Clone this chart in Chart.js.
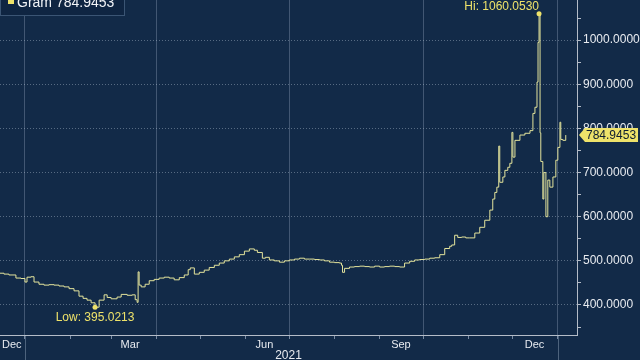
<!DOCTYPE html>
<html>
<head>
<meta charset="utf-8">
<script src="https://cdn.jsdelivr.net/npm/chart.js@4/dist/chart.umd.min.js"></script>
<style>
   html, body { margin: 0; padding: 0; background: #122a48; }
   #frame { position: relative; width: 640px; height: 360px; overflow: hidden; background: #122a48; }
   #holder { position: absolute; left: 0; top: -20px; width: 640px; height: 380px; }
</style>
</head>
<body>
<div id="frame"><div id="holder"><canvas id="graphique"></canvas></div></div>
<script>
const seriesName = 'Gram';

// jours depuis le 1er janvier 2021
const days = [
   -17.8, -14.4, -11.0, -6.2, -2.7, 0, 1.4, 4.1, 6.2, 9.6,
   13.0, 16.5, 19.9, 23.3, 26.8, 30.2, 33.6, 37.0, 39.8, 42.5,
   45.3, 48.0, 50.8, 54.2, 56.3, 59.0, 63.1, 65.9, 70.0, 73.4,
   75.5, 76.8, 77.5, 78.2, 79.6, 82.3, 85.1, 88.5, 91.9, 95.4,
   98.8, 102.2, 105.7, 109.1, 111.8, 113.2, 116.0, 119.4, 122.8, 126.2,
   129.7, 133.1, 136.5, 140.0, 143.4, 146.8, 150.3, 153.7, 157.1, 159.2,
   162.6, 164.7, 167.4, 170.8, 174.3, 177.7, 181.1, 184.6, 188.0, 191.4,
   194.9, 198.3, 201.7, 205.1, 208.6, 212.0, 215.4, 216.8, 217.5, 218.9,
   222.3, 225.7, 229.2, 232.6, 236.0, 239.5, 242.9, 246.3, 249.7, 253.2,
   256.6, 260.0, 263.5, 266.9, 270.3, 273.8, 277.2, 280.6, 284.1, 287.5,
   290.9, 292.3, 294.3, 296.4, 299.1, 301.9, 304.6, 308.1, 311.5, 314.9,
   318.4, 320.4, 321.8, 323.2, 324.5, 325.2, 327.3, 328.7, 330.7, 332.1,
   333.5, 334.2, 335.6, 339.0, 342.4, 345.9, 347.9, 349.3, 350.7, 351.4,
   352.1, 352.8, 353.3, 354.7, 355.4, 356.8, 358.1, 359.5, 361.6, 363.6,
   365.0, 366.4, 367.0, 368.4, 370.4
];

const prices = [
   472, 470, 468, 461, 460, 452, 463, 464, 452, 447,
   445, 446, 445, 443, 441, 437, 432, 420, 415, 411,
   405, 395.0213, 411, 423, 417, 414, 418, 424, 422, 423,
   412, 406, 475, 445, 441, 447, 455, 458, 461, 463,
   461, 457, 462, 468, 480, 484, 470, 474, 479, 485,
   490, 495, 500, 504, 509, 514, 522, 527, 524, 519,
   506, 508, 502, 500, 497, 500, 502, 504, 506, 504,
   504, 503, 502, 500, 497, 496, 495, 490, 474, 483,
   486, 487, 488, 487, 486, 488, 486, 487, 488, 487,
   486, 495, 499, 502, 503, 504, 506, 507, 514, 528,
   533, 536, 558, 553, 554, 552, 552, 563, 576, 592,
   615, 640, 655, 667, 760, 678, 690, 705, 712, 721,
   791, 735, 773, 785, 789, 795, 834, 848, 905, 995,
   1060.053, 790, 725, 640, 700, 600, 683, 667, 690, 728,
   757, 814, 775, 773, 784.9453
];

const monthStartDays = [0, 31, 59, 90, 120, 151, 181, 212, 243, 273, 304, 334, 365];
const quarterStartDays = [0, 90, 181, 273, 365];
const yearStartDays = [0, 365];
const monthLabels = ['Dec', 'Mar', 'Jun', 'Sep', 'Dec'];
const monthLabelDays = [-9, 72, 164, 257.5, 349];
const yearLabel = '2021';
const yTickValues = [350, 400, 450, 500, 550, 600, 650, 700, 750, 800, 850, 900, 950, 1000, 1050, 1100];

const xMin = -17.1;
const xMax = 378.1;
const yMin = 332;
const yMax = 1100;

const lineColor = '#e4e49c';
const yellow = '#eee26a';
const textColor = '#e8ebf0';
const axisColor = '#b4bcc8';
const canvasOffset = 20; // le canvas déborde de 20px en haut

const fontAxis = { family: 'Liberation Sans, Arial, sans-serif', size: 12 };
const fontMonth = { family: 'Liberation Sans, Arial, sans-serif', size: 11 };

const annotationPlugin = {
   id: 'annotations',
   afterDraw(chart) {
      const { ctx, chartArea, scales: { x, y } } = chart;
      ctx.save();

      // traits de séparation des années
      ctx.strokeStyle = 'rgba(190, 205, 225, 0.35)';
      ctx.lineWidth = 1;
      yearStartDays.forEach(d => {
         const px = Math.round(x.getPixelForValue(d)) + 0.5;
         ctx.beginPath();
         ctx.moveTo(px, chartArea.bottom);
         ctx.lineTo(px, chart.height);
         ctx.stroke();
      });

      // plus haut / plus bas
      let iMax = 0, iMin = 0;
      prices.forEach((v, i) => {
         if (v > prices[iMax]) iMax = i;
         if (v < prices[iMin]) iMin = i;
      });
      ctx.font = '12px Liberation Sans, Arial, sans-serif';
      ctx.fillStyle = yellow;

      const hx = x.getPixelForValue(days[iMax]);
      const hy = y.getPixelForValue(prices[iMax]);
      ctx.beginPath();
      ctx.arc(hx, hy, 2.5, 0, Math.PI * 2);
      ctx.fill();
      ctx.textAlign = 'right';
      ctx.textBaseline = 'alphabetic';
      ctx.fillText('Hi: ' + prices[iMax].toFixed(4), hx, hy - 4);

      const lx = x.getPixelForValue(days[iMin]);
      const ly = y.getPixelForValue(prices[iMin]);
      ctx.beginPath();
      ctx.arc(lx, ly, 2.5, 0, Math.PI * 2);
      ctx.fill();
      ctx.textAlign = 'center';
      ctx.textBaseline = 'top';
      ctx.fillText('Low: ' + prices[iMin].toFixed(4), lx, ly + 5);

      // étiquette de la dernière valeur
      const last = prices[prices.length - 1];
      const ty = Math.round(y.getPixelForValue(last));
      const tx = chartArea.right + 2;
      ctx.beginPath();
      ctx.moveTo(tx, ty);
      ctx.lineTo(tx + 6, ty - 7);
      ctx.lineTo(tx + 59, ty - 7);
      ctx.lineTo(tx + 59, ty + 7);
      ctx.lineTo(tx + 6, ty + 7);
      ctx.closePath();
      ctx.fill();
      ctx.fillStyle = '#0d1c30';
      ctx.textAlign = 'left';
      ctx.textBaseline = 'middle';
      ctx.fillText(last.toFixed(4), tx + 7, ty + 1);

      // légende en haut à gauche
      ctx.fillStyle = '#0f2542';
      ctx.strokeStyle = '#3b5574';
      ctx.fillRect(0, canvasOffset - 8, 124, 24);
      ctx.strokeRect(0.5, canvasOffset - 8.5, 124, 24);
      ctx.fillStyle = yellow;
      ctx.fillRect(8, canvasOffset - 2, 6, 6);
      ctx.fillStyle = '#f2f4f7';
      ctx.font = '14px Liberation Sans, Arial, sans-serif';
      ctx.textBaseline = 'alphabetic';
      ctx.fillText(seriesName + ' ' + last.toFixed(4), 17, canvasOffset + 7);

      ctx.restore();
   }
};

const scalesForGraphique = {
   x: {
      type: 'linear',
      min: xMin,
      max: xMax,
      afterBuildTicks: scale => {
         scale.ticks = monthStartDays.concat(monthLabelDays)
            .sort((a, b) => a - b)
            .map(v => ({ value: v }));
      },
      afterFit: scale => { scale.height = 25; },
      ticks: {
         autoSkip: false,
         maxRotation: 0,
         padding: -1,
         color: textColor,
         font: fontMonth,
         callback: value => {
            const i = monthLabelDays.indexOf(value);
            return i >= 0 ? monthLabels[i] : '';
         }
      },
      grid: {
         color: ctx => quarterStartDays.includes(ctx.tick.value) ? 'rgba(190, 205, 225, 0.28)' : 'transparent',
         tickColor: ctx => monthStartDays.includes(ctx.tick.value) ? 'rgba(190, 205, 225, 0.6)' : 'transparent',
         tickLength: 4
      },
      border: {
         color: axisColor
      },
      title: {
         display: true,
         text: yearLabel,
         color: textColor,
         font: fontAxis,
         padding: { top: 0, bottom: -3 }
      }
   },
   y: {
      position: 'right',
      min: yMin,
      max: yMax,
      afterBuildTicks: scale => {
         scale.ticks = yTickValues.map(v => ({ value: v }));
      },
      afterFit: scale => { scale.width = 63; },
      ticks: {
         padding: 2,
         color: textColor,
         font: fontAxis,
         callback: value => value % 100 === 0 ? value.toFixed(4) : ''
      },
      grid: {
         color: ctx => ctx.tick.value % 100 === 0 ? 'rgba(200, 212, 230, 0.38)' : 'transparent',
         tickColor: axisColor,
         tickLength: 4
      },
      border: {
         color: axisColor,
         dash: [1, 2]
      }
   }
};

function createGraphiqueLine(element) {
   new Chart(
      element,
      {
         type: 'line',
         data: {
            datasets: [
               {
                  label: seriesName,
                  data: days.map((d, i) => ({ x: d, y: prices[i] })),
                  borderColor: lineColor,
                  borderWidth: 1,
                  pointRadius: 0,
                  stepped: true,
                  fill: false
               }
            ]
         },
         options: {
            responsive: true,
            maintainAspectRatio: false,
            animation: false,
            layout: {
               padding: { top: 16, left: 0, right: 0, bottom: 0 }
            },
            plugins: {
               legend: { display: false },
               tooltip: { enabled: false }
            },
            scales: scalesForGraphique
         },
         plugins: [annotationPlugin]
      }
   );
}

createGraphiqueLine(document.getElementById('graphique'));
</script>
</body>
</html>
